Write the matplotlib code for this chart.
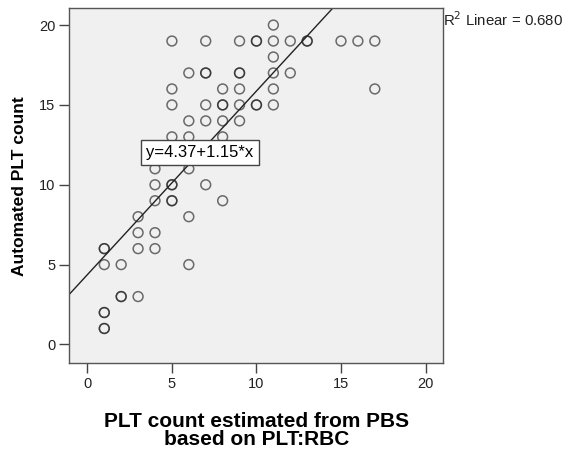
import numpy as np
import matplotlib
matplotlib.use('Agg')
import matplotlib.pyplot as plt

plt.rcParams['font.family'] = ['Liberation Sans', 'DejaVu Sans']

# PLT count estimated from PBS (x) vs automated PLT count (y)
# repeated pairs show up as darker circles
pbs_count = [1, 1,
             1, 1,
             2, 2, 3,
             1, 2, 6,
             1, 1, 3, 4,
             3, 4,
             3, 6,
             4, 5, 5, 8,
             4, 5, 5, 7,
             4, 6,
             5, 6,
             5, 6, 8,
             6, 7, 8, 9,
             5, 7, 8, 8, 9, 10, 10, 11,
             5, 8, 9, 11, 17,
             6, 7, 7, 9, 9, 11, 12,
             11,
             5, 7, 9, 10, 10, 11, 12, 13, 13, 15, 16, 17,
             11]
auto_count = [1, 1,
              2, 2,
              3, 3, 3,
              5, 5, 5,
              6, 6, 6, 6,
              7, 7,
              8, 8,
              9, 9, 9, 9,
              10, 10, 10, 10,
              11, 11,
              12, 12,
              13, 13, 13,
              14, 14, 14, 14,
              15, 15, 15, 15, 15, 15, 15, 15,
              16, 16, 16, 16, 16,
              17, 17, 17, 17, 17, 17, 17,
              18,
              19, 19, 19, 19, 19, 19, 19, 19, 19, 19, 19, 19,
              20]

fit_intercept = 4.37
fit_slope = 1.15
r2_linear = 0.680

fig = plt.figure(figsize=(5.66, 4.53), dpi=100)
ax = fig.add_axes([0.1224, 0.198, 0.6608, 0.7837])
ax.set_facecolor('#f0f0f0')

ax.scatter(pbs_count, auto_count, s=50, facecolors='none',
           edgecolors='#222222', linewidths=1.1, alpha=0.65, zorder=3)

xlim = (-1.07, 21.05)
ylim = (-1.18, 21.05)
xs = np.array(xlim)
ax.plot(xs, fit_intercept + fit_slope * xs, color='#222222', lw=1.0, zorder=2)

ax.text(6.66, 12.05, 'y=%.2f+%.2f*x' % (fit_intercept, fit_slope),
        fontsize=12, ha='center', va='center', zorder=5,
        bbox=dict(boxstyle='square,pad=0.3', fc='white', ec='#444444', lw=1.0))

ax.set_xlim(*xlim)
ax.set_ylim(*ylim)
ax.set_xticks([0, 5, 10, 15, 20])
ax.set_yticks([0, 5, 10, 15, 20])
ax.tick_params(direction='out', length=7, width=1, color='#444444',
               labelsize=10.5, labelcolor='#222222', pad=3)
for s in ax.spines.values():
    s.set_color('#555555')
    s.set_linewidth(1.0)

ax.set_xlabel('PLT count estimated from PBS\nbased on PLT:RBC',
              fontsize=15, fontweight='bold', labelpad=15, linespacing=0.92)
ax.set_ylabel('Automated PLT count', fontsize=12.5, fontweight='bold', labelpad=9)

fig.text(0.783, 0.956, 'R$^2$ Linear = %.3f' % r2_linear, fontsize=10.8,
         ha='left', va='center', color='#222222')

fig.savefig('out.png', dpi=100)
